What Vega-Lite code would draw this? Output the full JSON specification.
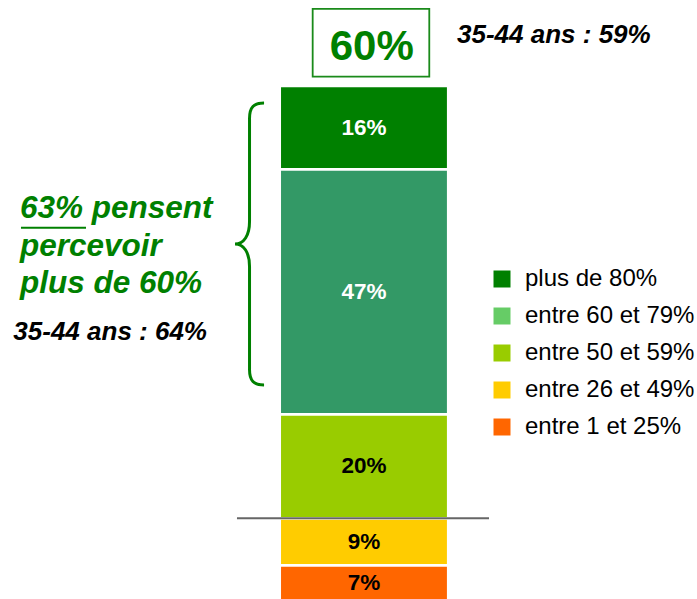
{
  "$schema": "https://vega.github.io/schema/vega-lite/v6.json",
  "width": 697,
  "height": 599,
  "autosize": "none",
  "padding": 0,
  "background": "white",
  "config": {"view": {"stroke": null}, "font": "Liberation Sans"},
  "datasets": {
    "bars": [
      {"cat": "entre 1 et 25%", "pct": 7, "ord": 1, "label": "7%"},
      {"cat": "entre 26 et 49%", "pct": 9, "ord": 2, "label": "9%"},
      {"cat": "entre 50 et 59%", "pct": 20, "ord": 3, "label": "20%"},
      {"cat": "entre 60 et 79%", "pct": 47, "ord": 4, "label": "47%"},
      {"cat": "plus de 80%", "pct": 16, "ord": 5, "label": "16%"}
    ]
  },
  "layer": [
    {
      "data": {"name": "bars"},
      "transform": [{"stack": "pct", "groupby": [], "sort": [{"field": "ord", "order": "ascending"}], "as": ["y0", "y1"]}],
      "mark": {"type": "rect", "stroke": "white", "strokeWidth": 2.5},
      "encoding": {
        "x": {"datum": 40.14, "type": "quantitative", "scale": {"domain": [0, 100], "nice": false, "zero": false}, "axis": null},
        "x2": {"datum": 64.3},
        "y": {"field": "y0", "type": "quantitative", "scale": {"domain": [0.52, 115.5], "nice": false, "zero": false}, "axis": null},
        "y2": {"field": "y1"},
        "fill": {"condition": {"test": "datum.cat === 'entre 60 et 79%'", "value": "#339966"},
          "field": "cat", "type": "nominal",
          "scale": {"domain": ["plus de 80%", "entre 60 et 79%", "entre 50 et 59%", "entre 26 et 49%", "entre 1 et 25%"],
                    "range": ["#008000", "#66CC66", "#99CC00", "#FFCC00", "#FF6600"]},
          "legend": {"orient": "none", "legendX": 490, "legendY": 267, "title": null, "symbolType": "square",
            "symbolSize": 289, "symbolStrokeWidth": 0, "labelFontSize": 24,
            "labelFont": "Liberation Sans", "labelColor": "black", "rowPadding": 13, "labelOffset": 11,
            "padding": 0, "labelLimit": 300}}
      }
    },
    {
      "data": {"name": "bars"},
      "transform": [
        {"stack": "pct", "groupby": [], "sort": [{"field": "ord", "order": "ascending"}], "as": ["y0", "y1"]},
        {"fold": ["y0", "y1"], "as": ["edge", "edgeValue"]},
        {"aggregate": [{"op": "mean", "field": "edgeValue", "as": "ymid"}], "groupby": ["label", "ord"]}
      ],
      "mark": {"type": "text", "fontSize": 22.5, "fontWeight": "bold", "font": "Liberation Sans", "align": "center", "baseline": "middle"},
      "encoding": {
        "x": {"datum": 52.22, "type": "quantitative", "scale": {"domain": [0, 100], "nice": false, "zero": false}},
        "y": {"field": "ymid", "type": "quantitative", "scale": {"domain": [0.52, 115.5], "nice": false, "zero": false}},
        "text": {"field": "label"},
        "color": {"condition": {"test": "datum.ord >= 4", "value": "white"}, "value": "black"}
      }
    },
    {
      "data": {"values": [{"boundary": 16}]},
      "mark": {"type": "rule", "color": "#666666", "strokeWidth": 2},
      "encoding": {
        "x": {"datum": 34.0, "type": "quantitative", "scale": {"domain": [0, 100], "nice": false, "zero": false}},
        "x2": {"datum": 70.16},
        "y": {"field": "boundary", "type": "quantitative", "scale": {"domain": [0.52, 115.5], "nice": false, "zero": false}}
      }
    },
    {
      "data": {"values": [{"total": "60%"}]},
      "layer": [
        {
          "mark": {"type": "rect", "fill": "white", "fillOpacity": 0, "stroke": "#1a8a1a", "strokeWidth": 1.8},
          "encoding": {
            "x": {"datum": 44.86, "type": "quantitative", "scale": {"domain": [0, 100], "nice": false, "zero": false}},
            "x2": {"datum": 61.59},
            "y": {"datum": 113.78, "type": "quantitative", "scale": {"domain": [0.52, 115.5], "nice": false, "zero": false}},
            "y2": {"datum": 100.79}
          }
        },
        {
          "mark": {"type": "text", "fontSize": 42, "fontWeight": "bold", "font": "Liberation Sans", "align": "center", "baseline": "alphabetic", "color": "#008000"},
          "encoding": {
            "x": {"datum": 53.33, "type": "quantitative", "scale": {"domain": [0, 100], "nice": false, "zero": false}},
            "y": {"datum": 104.0, "type": "quantitative", "scale": {"domain": [0.52, 115.5], "nice": false, "zero": false}},
            "text": {"field": "total"}
          }
        }
      ]
    },
    {
      "data": {"values": [{"note": "35-44 ans : 59%"}]},
      "mark": {"type": "text", "fontSize": 26, "fontWeight": "bold", "fontStyle": "italic", "font": "Liberation Sans", "align": "left", "baseline": "alphabetic", "color": "black"},
      "encoding": {
        "x": {"datum": 65.57, "type": "quantitative", "scale": {"domain": [0, 100], "nice": false, "zero": false}},
        "y": {"datum": 107.31, "type": "quantitative", "scale": {"domain": [0.52, 115.5], "nice": false, "zero": false}},
        "text": {"field": "note"}
      }
    },
    {
      "data": {"values": [{"note": "35-44 ans : 64%"}]},
      "mark": {"type": "text", "fontSize": 26, "fontWeight": "bold", "fontStyle": "italic", "font": "Liberation Sans", "align": "left", "baseline": "alphabetic", "color": "black"},
      "encoding": {
        "x": {"datum": 1.91, "type": "quantitative", "scale": {"domain": [0, 100], "nice": false, "zero": false}},
        "y": {"datum": 50.24, "type": "quantitative", "scale": {"domain": [0.52, 115.5], "nice": false, "zero": false}},
        "text": {"field": "note"}
      }
    },
    {
      "data": {"values": [{"share": 63}]},
      "layer": [
        {
          "mark": {"type": "text", "fontSize": 31.5, "fontWeight": "bold", "fontStyle": "italic", "font": "Liberation Sans", "align": "left", "baseline": "alphabetic", "color": "#008000", "lineHeight": 37.5},
          "encoding": {
            "x": {"datum": 2.87, "type": "quantitative", "scale": {"domain": [0, 100], "nice": false, "zero": false}},
            "y": {"datum": 73.6, "type": "quantitative", "scale": {"domain": [0.52, 115.5], "nice": false, "zero": false}},
            "text": {"value": ["63% pensent", "percevoir", "plus de 60%"]}
          }
        },
        {
          "mark": {"type": "rule", "color": "#008000", "strokeWidth": 2},
          "encoding": {
            "x": {"datum": 3.01, "type": "quantitative", "scale": {"domain": [0, 100], "nice": false, "zero": false}},
            "x2": {"datum": 12.34},
            "y": {"datum": 71.8, "type": "quantitative", "scale": {"domain": [0.52, 115.5], "nice": false, "zero": false}}
          }
        },
        {
          "mark": {"type": "point", "shape": "M0.103,-1 C0.03,-1 0,-0.97 0,-0.89 L0,-0.16 C0,-0.06 -0.04,0 -0.103,0 C-0.04,0 0,0.06 0,0.16 L0,0.89 C0,0.97 0.03,1 0.103,1", "filled": false, "size": 79524, "stroke": "#008000", "strokeWidth": 3, "opacity": 1},
          "encoding": {
            "x": {"datum": 35.8, "type": "quantitative", "scale": {"domain": [0, 100], "nice": false, "zero": false}},
            "y": {"datum": 68.67, "type": "quantitative", "scale": {"domain": [0.52, 115.5], "nice": false, "zero": false}}
          }
        }
      ]
    }
  ]
}
